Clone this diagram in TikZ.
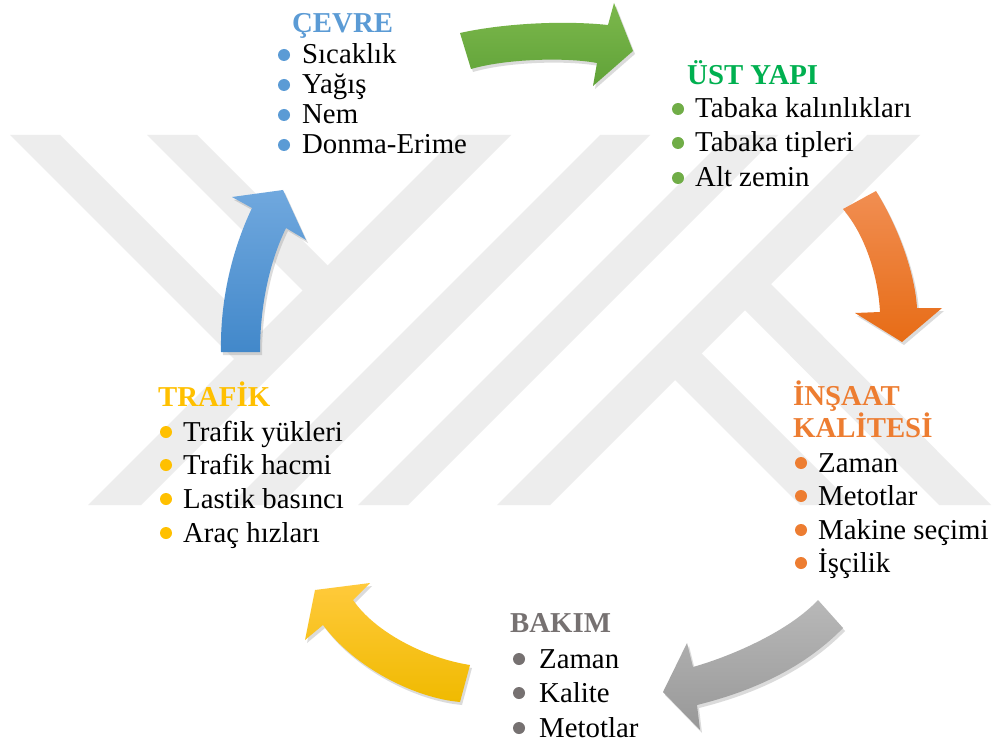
\documentclass[tikz,border=0pt]{standalone}
\usepackage{fontspec}
\setmainfont{Liberation Serif}
\usetikzlibrary{shadows}
\definecolor{wm}{RGB}{237,237,237}
\definecolor{cblue}{RGB}{91,155,213}
\definecolor{cgreen}{RGB}{0,176,80}
\definecolor{cgreenb}{RGB}{112,173,71}
\definecolor{corange}{RGB}{237,125,49}
\definecolor{cgray}{RGB}{118,113,113}
\definecolor{cyellow}{RGB}{255,192,0}
\definecolor{gtop}{RGB}{124,184,76}\definecolor{gbot}{RGB}{96,162,56}
\definecolor{otop}{RGB}{241,142,82}\definecolor{obot}{RGB}{231,108,22}
\definecolor{btop}{RGB}{112,168,222}\definecolor{bbot}{RGB}{66,136,202}
\definecolor{ktop}{RGB}{184,184,184}\definecolor{kbot}{RGB}{152,152,152}
\definecolor{ytop}{RGB}{255,202,60}\definecolor{ybot}{RGB}{240,186,0}
\begin{document}
\begin{tikzpicture}[x=1pt,y=-1pt,
  body/.style={anchor=base west, inner sep=0pt, font=\fontsize{28.8}{30}\selectfont, text=black},
  ttl/.style={anchor=base west, inner sep=0pt, font=\fontsize{28.8}{30}\selectfont\bfseries, text=#1},
  bul/.style={circle, inner sep=0pt, minimum size=12pt, fill=#1},
  arr/.style={drop shadow={opacity=0.28, shadow xshift=2pt, shadow yshift=-3pt}},
]
\useasboundingbox (0,0) rectangle (992,751);
\fill[white] (0,0) rectangle (992,751);
% watermark
\begin{scope}
\clip (0,135) rectangle (992,505);
% left letter: stroke C with arms A, B
\fill[wm] (458,135) -- (511,135) -- (141,505) -- (88,505) -- cycle;
\fill[wm] (10,135) -- (60,135) -- (267.5,342.5) -- (242.5,367.5) -- cycle;
\fill[wm] (147,135) -- (197,135) -- (336,274) -- (311,299) -- cycle;
% middle strokes
\fill[wm] (600,135) -- (650,135) -- (280,505) -- (230,505) -- cycle;
\fill[wm] (728,135) -- (778,135) -- (408,505) -- (358,505) -- cycle;
% right letter: stroke E with arms F, H
\fill[wm] (867,135) -- (920,135) -- (550,505) -- (497,505) -- cycle;
\fill[wm] (763.5,276.5) -- (991,505) -- (939,505) -- (737.5,302.5) -- cycle;
\fill[wm] (694,346) -- (853,505) -- (800,505) -- (667.5,372.5) -- cycle;
\end{scope}
% arrows
\path[arr, top color=gtop, bottom color=gbot]
  (460,33) .. controls (500,24) and (560,20) .. (608,25) -- (614,3) -- (633,51) -- (593,86) -- (597,63)
  .. controls (565,57) and (505,59) .. (471,69) -- cycle;
\path[arr, top color=otop, bottom color=obot]
  (843,209) -- (876,191) .. controls (900,230) and (915,275) .. (917,308) -- (942,308) -- (902,342) -- (855,313) -- (880,312)
  .. controls (878,275) and (865,235) .. (843,209) -- cycle;
\path[arr, top color=ktop, bottom color=kbot]
  (818,600) -- (843,628) .. controls (800,672) and (745,693) .. (697,705) -- (700,730) -- (663,692) -- (687,643) -- (693,667)
  .. controls (735,655) and (790,630) .. (818,600) -- cycle;
\path[arr, top color=ytop, bottom color=ybot]
  (470,665) -- (460,702) .. controls (415,698) and (355,668) .. (323,625) -- (305,640) -- (315,590) -- (370,583) -- (353,600)
  .. controls (375,632) and (425,658) .. (470,665) -- cycle;
\path[arr, top color=btop, bottom color=bbot]
  (221,352) .. controls (220,300) and (232,250) .. (252,208) -- (232,197) -- (283,190) -- (306,240) -- (286,228)
  .. controls (268,265) and (260,310) .. (260,352) -- cycle;
% CEVRE
\node[ttl=cblue] (t1) at (292,33) {ÇEVRE};
\node[body] (c1) at (302,64) {Sıcaklık};
\node[body] (c2) at (302,94) {Yağış};
\node[body] (c3) at (302,124) {Nem};
\node[body] (c4) at (302,154) {Donma-Erime};
\foreach \y [count=\i] in {64,94,124,154} \node[bul=cblue] (cb\i) at (284,\y-9) {};
% UST YAPI
\node[ttl=cgreen] (t2) at (687,85) {ÜST YAPI};
\node[body] (u1) at (695,118) {Tabaka kalınlıkları};
\node[body] (u2) at (695,152) {Tabaka tipleri};
\node[body] (u3) at (695,187) {Alt zemin};
\foreach \y [count=\i] in {118,152,187} \node[bul=cgreenb] (ub\i) at (678,\y-9) {};
% INSAAT
\node[ttl=corange] (t3a) at (793,405) {İNŞAAT};
\node[ttl=corange] (t3b) at (793,437) {KALİTESİ};
\node[body] (i1) at (818,472) {Zaman};
\node[body] (i2) at (818,505) {Metotlar};
\node[body] (i3) at (818,539) {Makine seçimi};
\node[body] (i4) at (818,572) {İşçilik};
\foreach \y [count=\i] in {472,505,539,572} \node[bul=corange] (ib\i) at (801,\y-9) {};
% BAKIM
\node[ttl=cgray] (t4) at (510,632) {BAKIM};
\node[body] (b1) at (539,668) {Zaman};
\node[body] (b2) at (539,702) {Kalite};
\node[body] (b3) at (539,737) {Metotlar};
\foreach \y [count=\i] in {668,702,737} \node[bul=cgray] (bb\i) at (519,\y-9) {};
% TRAFIK
\node[ttl=cyellow] (t5) at (158,406) {TRAFİK};
\node[body] (r1) at (183,441) {Trafik yükleri};
\node[body] (r2) at (183,474) {Trafik hacmi};
\node[body] (r3) at (183,508) {Lastik basıncı};
\node[body] (r4) at (183,542) {Araç hızları};
\foreach \y [count=\i] in {441,474,508,542} \node[bul=cyellow] (rb\i) at (166,\y-9) {};
\end{tikzpicture}
\end{document}
